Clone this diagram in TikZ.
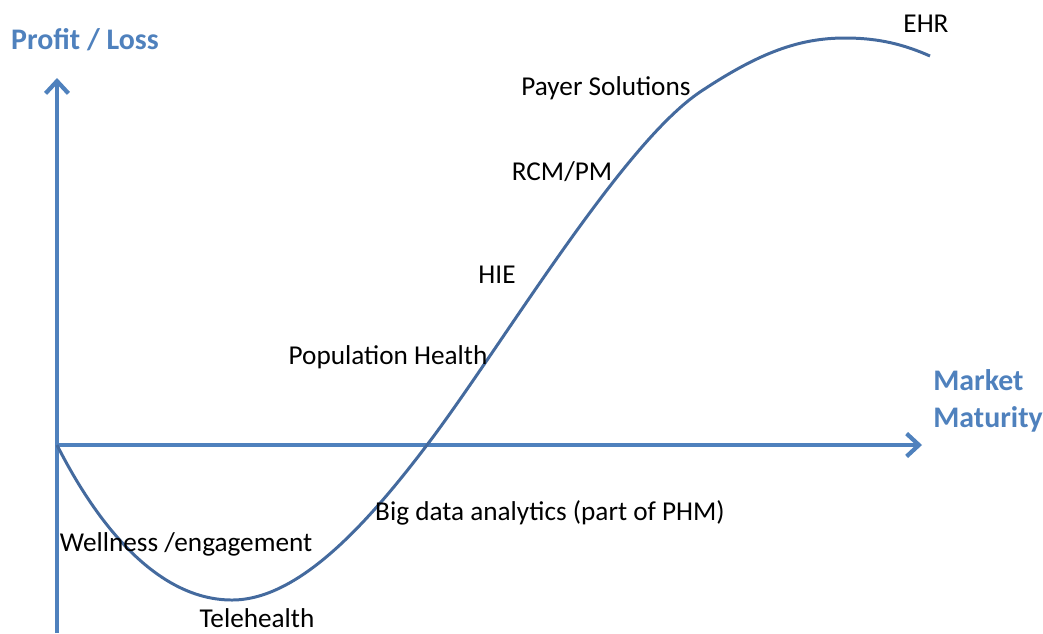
\documentclass[tikz,border=0pt]{standalone}
\usepackage{fontspec}
\setmainfont{Carlito}
\usepackage{tikz}
\usetikzlibrary{arrows.meta}
\definecolor{axisblue}{RGB}{79,129,189}
\definecolor{curveblue}{RGB}{68,106,158}

\tikzset{
  axisline/.style={axisblue, line width=2.4pt, -{Straight Barb[length=7pt,width=13pt,line width=2.4pt]}},
  axislabel/.style={text=axisblue, font=\fontsize{17}{21}\selectfont\bfseries, inner sep=0pt},
  market/.style={font=\fontsize{15.5}{18}\selectfont, inner sep=0pt}
}

\begin{document}
\begin{tikzpicture}[x=0.02cm, y=-0.02cm]
\useasboundingbox (0,0) rectangle (1043,633);
% axes
\coordinate (origin) at (57,445);
\coordinate (ybot) at (57,633);
\coordinate (ytop) at (57,78);
\coordinate (xend) at (922,445);
\draw[axisline] (ybot) -- (ytop);
\draw[axisline] (origin) -- (xend);
\node[axislabel] (profit) at (85,40) {Profit / Loss};
\node[axislabel, anchor=west, align=left] (maturity) at (933,401) {Market\\Maturity};
% maturity curve
\draw[curveblue, line width=1.7pt] (origin)
  .. controls (100,530) and (160,600) .. (232,600)
  .. controls (300,600) and (370,520) .. (427,445)
  .. controls (500,349) and (620,146) .. (700,92)
  .. controls (760,52) and (800,38) .. (845,38)
  .. controls (880,38) and (905,45) .. (930,56);
% segments
\node[market] (ehr) at (926,24) {EHR};
\node[market] (payer) at (606,88) {Payer Solutions};
\node[market] (rcm) at (562,172) {RCM/PM};
\node[market] (hie) at (497,275) {HIE};
\node[market] (pophealth) at (388,357) {Population Health};
\node[market] (bigdata) at (550,513) {Big data analytics (part of PHM)};
\node[market] (wellness) at (186,544) {Wellness /engagement};
\node[market] (telehealth) at (257,618) {Telehealth};
\end{tikzpicture}
\end{document}
